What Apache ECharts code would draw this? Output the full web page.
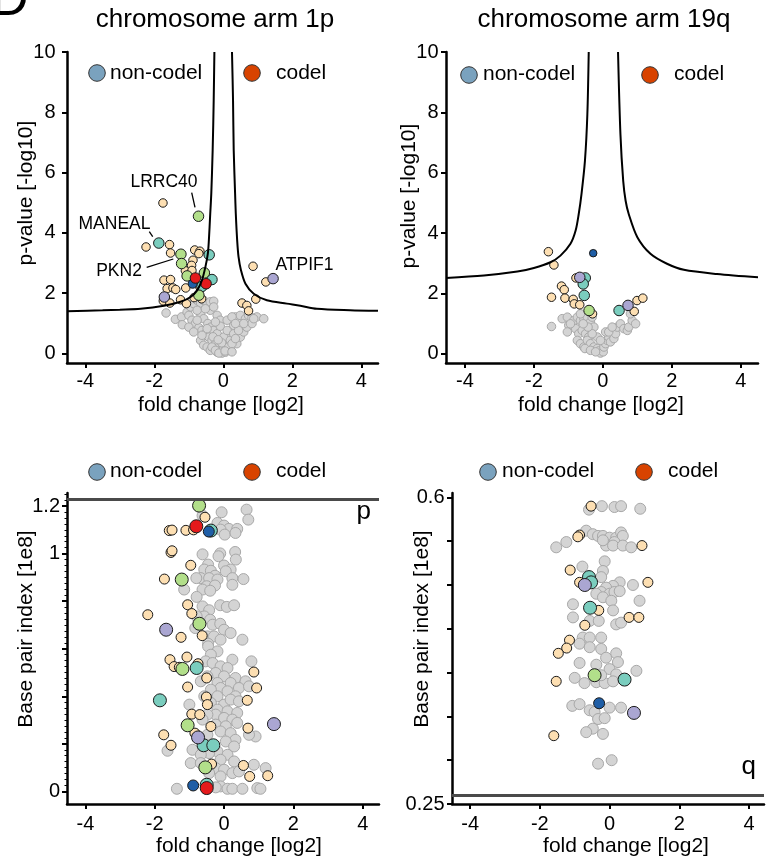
<!DOCTYPE html>
<html><head><meta charset="utf-8">
<script src="https://cdn.jsdelivr.net/npm/echarts@6/dist/echarts.min.js"></script>
<style>html,body{margin:0;padding:0;background:#fff}#c{width:766px;height:859px}</style>
</head><body><div id="c"></div>
<script>
// ---------- DATA (fold change [log2], value) ----------
const xTicks = [-4, -2, 0, 2, 4];
const volYTicks = [0, 2, 4, 6, 8, 10];
const pos1pTicks = [0, 0.2, 0.4, 0.6, 0.8, 1.0, 1.2];
const pos1pLabels = [0, 1, 1.2];
const pos19qTicks = [0.25, 0.3, 0.35, 0.4, 0.45, 0.5, 0.55, 0.6];
const pos19qLabels = [0.25, 0.6];
const arm1pEnd = 1.231;
const arm19qStart = 0.261;

// volcano 1p
const vol1pGray = [[-1.66,1.34],[-1.39,1.13],[-1.21,1.21],[-1.19,0.95],[-1.05,1.37],[-0.95,1.54],[-0.86,1.65],[-0.76,1.76],[-0.66,1.67],[-0.57,1.76],[-0.47,1.65],[-0.38,1.71],[-0.28,1.73],[-1.00,1.26],[-0.91,1.10],[-0.81,0.99],[-0.71,0.85],[-0.62,0.76],[-0.52,0.65],[-0.42,0.54],[-0.33,0.43],[-0.23,0.32],[-0.13,0.21],[-0.09,0.10],[-0.04,0.01],[0.01,0.16],[0.06,0.27],[0.11,0.43],[0.15,0.60],[0.20,0.76],[0.30,0.93],[0.39,1.10],[0.35,1.21],[0.49,1.26],[0.64,1.15],[0.73,1.26],[0.83,1.18],[0.97,1.21],[1.17,1.15],[-1.00,0.87],[-0.86,0.71],[-0.66,0.43],[-0.57,0.27],[-0.47,0.21],[-0.38,0.10],[-0.18,0.04],[-0.66,1.32],[-0.57,1.15],[-0.45,0.99],[-0.36,0.87],[-0.28,0.76],[-0.18,0.65],[-0.76,1.43],[-0.38,1.43],[-0.18,1.26],[-0.09,1.10],[-0.09,0.90],[0.01,0.54],[0.20,0.43],[0.39,0.32],[0.49,0.54],[0.59,0.71],[0.68,0.87],[0.83,0.99],[0.11,1.10],[-0.23,1.04],[0.25,1.21],[-0.76,1.10],[-0.52,1.48],[-0.28,1.54],[0.11,0.76],[0.30,0.65],[-0.47,0.82],[-0.62,0.60],[-0.33,0.21],[-0.23,0.10],[-0.13,0.01],[0.06,0.04],[0.15,0.21],[0.25,0.32],[0.35,0.49],[0.44,0.76],[0.59,0.99],[0.88,1.15],[0.35,0.99],[-0.05,0.35],[0.05,0.08],[-0.30,0.55],[0.25,0.05],[-0.15,0.45]];
const vol1pPeach = [[-1.75,4.99],[-2.24,3.53],[-1.56,3.61],[-1.53,3.33],[-0.83,3.43],[-0.68,3.39],[-0.71,3.31],[-0.88,3.09],[-0.92,2.92],[-1.10,2.74],[-0.91,2.75],[-1.72,2.43],[-1.53,2.45],[-1.63,2.15],[-1.46,2.17],[-1.38,2.12],[-1.74,1.74],[-1.55,1.67],[-1.24,1.78],[-1.07,1.65],[-0.85,1.85],[-0.63,1.81],[-1.09,2.17],[-0.68,2.20],[0.86,2.89],[1.23,2.37],[0.54,1.67],[0.68,1.59],[0.73,1.41],[0.94,1.80]];
const vol1pTeal = [[-1.87,3.66],[-0.41,3.27],[-0.33,2.45],[-0.62,2.22]];
const vol1pGreen = [[-0.72,4.55],[-1.23,3.29],[-1.21,2.98],[-1.05,2.57],[-0.55,2.67],[-0.71,1.93]];
const vol1pLav = [[-1.71,1.87],[1.44,2.48]];
const vol1pBlue = [[-0.89,2.31]];
const vol1pRed = [[-0.81,2.50],[-0.50,2.31]];
const thr1pLeft = [[-4.53,1.40],[-3.5,1.43],[-3.0,1.45],[-2.4,1.48],[-1.72,1.58],[-1.24,1.71],[-0.95,1.87],[-0.76,2.09],[-0.62,2.43],[-0.52,2.87],[-0.45,3.31],[-0.42,3.75],[-0.38,4.64],[-0.35,5.30],[-0.31,6.74],[-0.28,8.4],[-0.26,10]];
const thr1pRight = [[0.25,10],[0.28,8.4],[0.30,6.74],[0.34,5.30],[0.36,4.64],[0.40,3.75],[0.44,3.20],[0.51,2.76],[0.64,2.31],[0.88,1.98],[1.26,1.76],[1.84,1.65],[2.23,1.58],[2.71,1.48],[3.67,1.43],[4.48,1.41]];

// volcano 19q
const vol19qGray = [[-1.49,0.90],[-1.18,1.16],[-1.03,1.21],[-0.99,0.94],[-1.03,0.72],[-0.84,1.10],[-0.74,1.21],[-0.65,1.10],[-0.55,1.16],[-0.45,1.21],[-0.36,1.05],[-0.26,0.88],[-0.79,0.83],[-0.70,0.66],[-0.60,0.77],[-0.50,0.66],[-0.41,0.55],[-0.74,0.44],[-0.65,0.33],[-0.55,0.22],[-0.45,0.44],[-0.36,0.33],[-0.26,0.22],[-0.16,0.17],[-0.12,0.09],[-0.07,0.02],[0.01,0.06],[0.03,0.22],[0.08,0.33],[0.13,0.44],[0.17,0.55],[0.22,0.39],[0.32,0.50],[0.37,0.66],[0.42,0.88],[0.51,0.99],[0.61,0.83],[0.71,0.77],[0.75,0.88],[0.85,1.10],[0.95,0.99],[0.80,1.32],[0.08,0.72],[0.17,0.72],[0.27,0.88],[-0.16,0.55],[-0.07,0.44],[-0.31,0.66],[-0.43,0.88],[-0.57,0.99],[-0.94,0.99],[-0.52,0.17],[-0.36,0.11],[-0.21,0.06],[-0.65,1.32],[-0.31,1.21]];
const vol19qPeach = [[-1.58,3.38],[-1.42,2.94],[-0.78,2.51],[-1.20,2.24],[-1.12,2.12],[-1.49,1.87],[-1.10,1.84],[-0.86,1.80],[-0.83,1.65],[-0.67,1.62],[-0.30,1.32],[0.91,1.40],[0.99,1.76],[1.16,1.84]];
const vol19qTeal = [[-0.51,2.51],[-0.57,2.31],[-0.54,1.93],[0.47,1.43]];
const vol19qGreen = [[-0.40,1.43]];
const vol19qLav = [[-0.67,2.53],[0.73,1.60]];
const vol19qBlue = [[-0.28,3.33]];
const thr19qLeft = [[-4.55,2.51],[-3.45,2.59],[-2.48,2.72],[-2.0,2.84],[-1.52,3.03],[-1.23,3.25],[-0.94,3.64],[-0.79,4.08],[-0.70,4.63],[-0.62,5.29],[-0.52,6.39],[-0.45,7.93],[-0.41,10]];
const thr19qRight = [[0.44,10],[0.51,7.27],[0.59,5.73],[0.66,5.07],[0.75,4.63],[1.0,3.86],[1.38,3.31],[1.86,2.98],[2.35,2.78],[3.31,2.64],[4.5,2.53]];

// position 1p (fold change, base pair index [1e8])
const pos1pGray = [[-0.07,1.174],[0.65,1.185],[0.70,1.143],[-0.62,1.16],[-0.19,1.129],[0.00,1.118],[0.14,1.104],[0.38,1.104],[-0.10,1.101],[0.02,1.080],[0.33,1.087],[-0.62,0.997],[-0.11,1.001],[0.32,1.007],[0.34,0.975],[-0.16,0.989],[-0.46,0.954],[-0.57,0.933],[-0.38,0.928],[-0.26,0.907],[0.00,0.950],[0.19,0.933],[0.05,0.926],[-0.67,0.897],[-0.80,0.897],[-0.43,0.897],[-0.19,0.891],[0.24,0.897],[0.56,0.893],[0.24,0.869],[-0.50,0.863],[-0.26,0.866],[-1.15,0.849],[-0.62,0.849],[-0.40,0.844],[-0.79,0.818],[-0.62,0.778],[-0.11,0.783],[0.08,0.776],[0.29,0.783],[-0.43,0.762],[-0.57,0.736],[-0.79,0.736],[-0.40,0.722],[-0.33,0.701],[-0.11,0.705],[0.00,0.680],[0.19,0.666],[0.53,0.638],[-0.83,0.687],[-0.48,0.652],[-0.29,0.652],[-0.10,0.638],[-0.46,0.621],[-0.46,0.610],[-0.19,0.589],[-0.38,0.575],[0.24,0.554],[0.79,0.547],[-0.53,0.547],[-0.33,0.540],[-0.10,0.526],[0.10,0.519],[-0.24,0.498],[0.00,0.484],[-0.48,0.484],[0.33,0.477],[0.62,0.463],[0.19,0.456],[-0.19,0.456],[-0.67,0.463],[0.43,0.435],[-0.10,0.435],[0.72,0.442],[-0.38,0.428],[0.10,0.421],[-0.57,0.400],[0.33,0.400],[-0.19,0.400],[-1.00,0.365],[0.00,0.365],[0.19,0.386],[0.43,0.379],[-0.38,0.372],[-0.19,0.344],[0.10,0.337],[0.38,0.330],[-0.24,0.323],[-0.48,0.323],[0.00,0.309],[0.24,0.302],[-0.62,0.302],[-0.24,0.281],[0.05,0.274],[0.38,0.288],[-0.10,0.252],[0.19,0.245],[0.91,0.231],[0.72,0.238],[-0.48,0.238],[0.33,0.217],[0.05,0.210],[-1.63,0.171],[-0.91,0.175],[-0.19,0.168],[0.29,0.189],[-0.43,0.161],[-0.67,0.154],[0.10,0.154],[-0.10,0.133],[-0.96,0.119],[-0.67,0.119],[0.29,0.126],[0.86,0.112],[1.20,0.098],[-0.24,0.098],[0.00,0.091],[-0.43,0.077],[-0.10,0.063],[0.24,0.077],[0.43,0.084],[-1.36,0.011],[-0.10,0.021],[0.10,0.011],[0.24,0.011],[0.53,0.011],[0.96,0.014],[1.05,0.011],[-0.24,0.017]];
const pos1pPeach = [[-0.55,1.153],[-1.58,1.097],[-1.50,1.099],[-1.10,1.098],[-0.88,1.100],[-1.53,1.005],[-1.50,1.012],[-0.96,0.951],[-1.72,0.893],[-1.05,0.785],[-2.20,0.743],[-0.93,0.748],[-1.24,0.648],[-0.63,0.655],[-1.56,0.554],[-1.07,0.565],[-1.44,0.525],[-1.29,0.522],[-0.75,0.537],[0.86,0.502],[-0.50,0.477],[-1.05,0.439],[0.94,0.435],[-0.51,0.397],[-0.48,0.365],[0.67,0.383],[-0.93,0.325],[-0.70,0.323],[-0.38,0.273],[0.69,0.266],[-1.74,0.238],[-0.84,0.245],[-1.53,0.194],[-0.36,0.115],[0.56,0.109],[0.74,0.063],[1.26,0.066]];
const pos1pTeal = [[-0.38,1.097],[-0.79,0.519],[-1.85,0.383],[-0.59,0.194],[-0.31,0.194],[-0.50,0.028]];
const pos1pGreen = [[-0.72,1.202],[-1.22,0.891],[-0.71,0.705],[-1.20,0.515],[-1.05,0.278],[-0.54,0.101]];
const pos1pLav = [[-1.67,0.680],[1.44,0.283],[-0.75,0.227]];
const pos1pBlue = [[-0.44,1.093],[-0.89,0.025]];
const pos1pRed = [[-0.80,1.115],[-0.50,0.014]];

// position 19q
const pos19qGray = [[-0.59,0.586],[-0.22,0.590],[0.14,0.589],[0.33,0.590],[0.88,0.587],[-1.53,0.543],[-1.24,0.549],[-0.67,0.562],[-0.48,0.558],[-0.33,0.556],[-0.19,0.556],[0.00,0.554],[0.19,0.554],[0.33,0.560],[0.38,0.556],[0.14,0.549],[-0.10,0.545],[0.10,0.545],[0.38,0.545],[0.62,0.543],[-0.19,0.551],[-0.78,0.521],[-0.14,0.527],[-0.19,0.516],[-0.24,0.509],[0.29,0.503],[0.10,0.499],[-0.10,0.497],[-0.24,0.492],[-0.38,0.490],[0.00,0.490],[0.14,0.492],[0.29,0.493],[-0.19,0.486],[0.05,0.482],[0.67,0.500],[-1.05,0.478],[0.10,0.471],[0.86,0.482],[0.19,0.455],[0.33,0.457],[-1.05,0.463],[-0.57,0.459],[-0.31,0.459],[-0.77,0.440],[-0.57,0.440],[-0.24,0.440],[-0.86,0.433],[-0.57,0.429],[-0.24,0.427],[0.19,0.422],[-0.10,0.417],[0.24,0.412],[-0.86,0.411],[-0.38,0.409],[0.00,0.404],[0.19,0.398],[0.77,0.402],[-1.00,0.394],[-0.72,0.388],[-0.38,0.389],[-0.14,0.388],[0.10,0.390],[-0.24,0.397],[-1.07,0.362],[-0.86,0.364],[-0.57,0.357],[-0.43,0.355],[0.00,0.360],[0.33,0.360],[-0.33,0.347],[-0.14,0.348],[-0.48,0.336],[-0.67,0.332],[-0.19,0.330],[-0.33,0.296],[0.06,0.300]];
const pos19qPeach = [[-0.53,0.590],[-0.86,0.557],[-0.91,0.555],[0.93,0.545],[-1.13,0.517],[-0.86,0.503],[1.10,0.503],[-0.31,0.471],[0.56,0.463],[0.84,0.463],[-0.71,0.454],[-1.15,0.437],[-1.23,0.428],[-1.47,0.422],[-1.53,0.390],[-1.60,0.328]];
const pos19qTeal = [[-0.59,0.509],[-0.53,0.503],[-0.56,0.474],[0.43,0.392]];
const pos19qGreen = [[-0.43,0.397]];
const pos19qLav = [[-0.71,0.500],[0.70,0.354]];
const pos19qBlue = [[-0.30,0.365]];

// ---------- STYLE ----------
const FONT = '"Liberation Sans", Arial, Helvetica, sans-serif';
const C = {gray:'#d4d4d4', grayB:'#a8a8a8', peach:'#fddfb2', teal:'#7acdbe', green:'#b2df8a', lav:'#aaa6d2', blue:'#1f5ea6', red:'#e41a1c', nonc:'#7aa2be', codel:'#d84300'};
const fmt = v => String(Math.round(v*1000)/1000);

const grids = [
  {left:67, top:52, width:311, height:311},
  {left:446, top:52, width:312, height:311},
  {left:67, top:493, width:312, height:311},
  {left:452, top:493, width:312, height:311}
];
const xR = [[-4.53,4.48],[-4.55,4.50],[-4.53,4.47],[-4.52,4.43]];
const yR = [[-0.32,10],[-0.31,10],[-0.053,1.255],[0.25,0.605]];
const yTk = [volYTicks, volYTicks, pos1pTicks, pos19qTicks];
const yLb = [volYTicks, volYTicks, pos1pLabels, pos19qLabels];
const yMargin = [11.5, 7.5, 7, 7.5];

const axLine = {onZero:false, lineStyle:{color:'#000', width:2.5}};
const xAxes = grids.map((g,i)=>({
  type:'value', gridIndex:i, min:xR[i][0], max:xR[i][1],
  axisLine:axLine, splitLine:{show:false},
  axisTick:{customValues:xTicks, length:5, lineStyle:{color:'#000', width:2}},
  axisLabel:{customValues:xTicks, margin:i<2?8:10, fontSize:20, color:'#000', fontFamily:FONT, formatter:fmt}
}));
const yAxes = grids.map((g,i)=>({
  type:'value', gridIndex:i, min:yR[i][0], max:yR[i][1],
  axisLine:axLine, splitLine:{show:false},
  axisTick:{customValues:yTk[i], length:5, lineStyle:{color:'#000', width:2}},
  axisLabel:{customValues:yLb[i], margin:yMargin[i], fontSize:20, color:'#000', fontFamily:FONT, formatter:fmt}
}));
// minor ticks on 1p position axis
const minor1p = [];
for (let k = 0; k <= 50; k++) minor1p.push(Math.round(k*0.025*1000)/1000);
yAxes.push({type:'value', gridIndex:2, min:yR[2][0], max:yR[2][1], position:'left', offset:0,
  axisLine:{show:false, onZero:false}, splitLine:{show:false}, axisLabel:{show:false},
  axisTick:{customValues:minor1p, length:2.5, lineStyle:{color:'#000', width:1}}});

function sc(i, data, fill, size, border) {
  return {type:'scatter', xAxisIndex:i, yAxisIndex:i, data:data, symbol:'circle', symbolSize:size,
    silent:true, animation:false,
    itemStyle:{color:fill, borderColor:border || '#1a1a1a', borderWidth:1, opacity:1}};
}
function curve(i, data) {
  return {type:'line', xAxisIndex:i, yAxisIndex:i, data:data, showSymbol:false, symbol:'none',
    smooth:0.3, silent:true, animation:false, clip:true, lineStyle:{color:'#000', width:2}};
}
const series = [
  curve(0, thr1pLeft), curve(0, thr1pRight),
  sc(0, vol1pGray, C.gray, 8.5, C.grayB), sc(0, vol1pPeach, C.peach, 8.5), sc(0, vol1pTeal, C.teal, 10.5),
  sc(0, vol1pGreen, C.green, 10.5), sc(0, vol1pLav, C.lav, 10.5), sc(0, vol1pBlue, C.blue, 9), sc(0, vol1pRed, C.red, 10.5),
  curve(1, thr19qLeft), curve(1, thr19qRight),
  sc(1, vol19qGray, C.gray, 8.5, C.grayB), sc(1, vol19qPeach, C.peach, 8.5), sc(1, vol19qTeal, C.teal, 10.5),
  sc(1, vol19qGreen, C.green, 10.5), sc(1, vol19qLav, C.lav, 10.5), sc(1, vol19qBlue, C.blue, 7.5),
  Object.assign(sc(2, pos1pGray, C.gray, 11, C.grayB), {markLine:{silent:true, symbol:['none','none'], label:{show:false}, animation:false,
    lineStyle:{color:'#4a4a4a', width:3, type:'solid'}, data:[{yAxis:arm1pEnd}]}}),
  sc(2, pos1pPeach, C.peach, 10), sc(2, pos1pTeal, C.teal, 13), sc(2, pos1pGreen, C.green, 13),
  sc(2, pos1pLav, C.lav, 13), sc(2, pos1pBlue, C.blue, 11), sc(2, pos1pRed, C.red, 13),
  Object.assign(sc(3, pos19qGray, C.gray, 11, C.grayB), {markLine:{silent:true, symbol:['none','none'], label:{show:false}, animation:false,
    lineStyle:{color:'#4a4a4a', width:3, type:'solid'}, data:[{yAxis:arm19qStart}]}}),
  sc(3, pos19qPeach, C.peach, 10), sc(3, pos19qTeal, C.teal, 13), sc(3, pos19qGreen, C.green, 13),
  sc(3, pos19qLav, C.lav, 13), sc(3, pos19qBlue, C.blue, 11)
];

// ---------- TEXT / DECORATION ----------
function txt(t, x, y, size, align, rot) {
  return {type:'text', x:x, y:y, rotation:rot||0, silent:true,
    style:{text:t, fill:'#000', font:size+'px '+FONT, align:align||'center', verticalAlign:'middle'}};
}
function dot(cx, cy, fill) {
  return {type:'circle', shape:{cx:cx, cy:cy, r:8.3}, silent:true, style:{fill:fill, stroke:'#333', lineWidth:1}};
}
function seg(x1,y1,x2,y2){
  return {type:'line', shape:{x1:x1,y1:y1,x2:x2,y2:y2}, silent:true, style:{stroke:'#000', lineWidth:1.3}};
}
const legends = [
  [97,110,252,276,73,73],
  [469,483,650,674,75,74.5],
  [97,110,252,276,472,471.5],
  [488,502,644,668,472,471.5]
];
const graphic = [];
legends.forEach(l=>{
  graphic.push(dot(l[0], l[4], C.nonc), txt('non-codel', l[1], l[5], 21, 'left'));
  graphic.push(dot(l[2], l[4], C.codel), txt('codel', l[3], l[5], 21, 'left'));
});
graphic.push(
  txt('D', -9, 1, 52, 'left'),
  txt('chromosome arm 1p', 215, 19.5, 26), txt('chromosome arm 19q', 604, 19.5, 26),
  txt('p-value [-log10]', 26, 193, 21, 'center', Math.PI/2),
  txt('p-value [-log10]', 409, 196, 21, 'center', Math.PI/2),
  txt('Base pair index [1e8]', 26, 629, 21, 'center', Math.PI/2),
  txt('Base pair index [1e8]', 422, 629, 21, 'center', Math.PI/2),
  txt('fold change [log2]', 221, 405, 21), txt('fold change [log2]', 601, 405, 21),
  txt('fold change [log2]', 239, 846, 21), txt('fold change [log2]', 626, 846, 21),
  txt('p', 371, 512, 26, 'right'), txt('q', 756, 767, 26, 'right'),
  txt('LRRC40', 164, 182.5, 17.5), txt('MANEAL', 114.5, 224.5, 17.5),
  txt('PKN2', 119, 271, 17.5), txt('ATPIF1', 304.5, 265.5, 17.5),
  seg(191.7,192.7,195,207.3), seg(149.3,231.7,152.7,236.7), seg(146.7,267.3,173.3,259)
);

const chart = echarts.init(document.getElementById('c'), null, {renderer:'canvas'});
chart.setOption({
  animation:false, backgroundColor:'#fff',
  grid:grids, xAxis:xAxes, yAxis:yAxes, series:series, graphic:graphic
});
</script></body></html>
